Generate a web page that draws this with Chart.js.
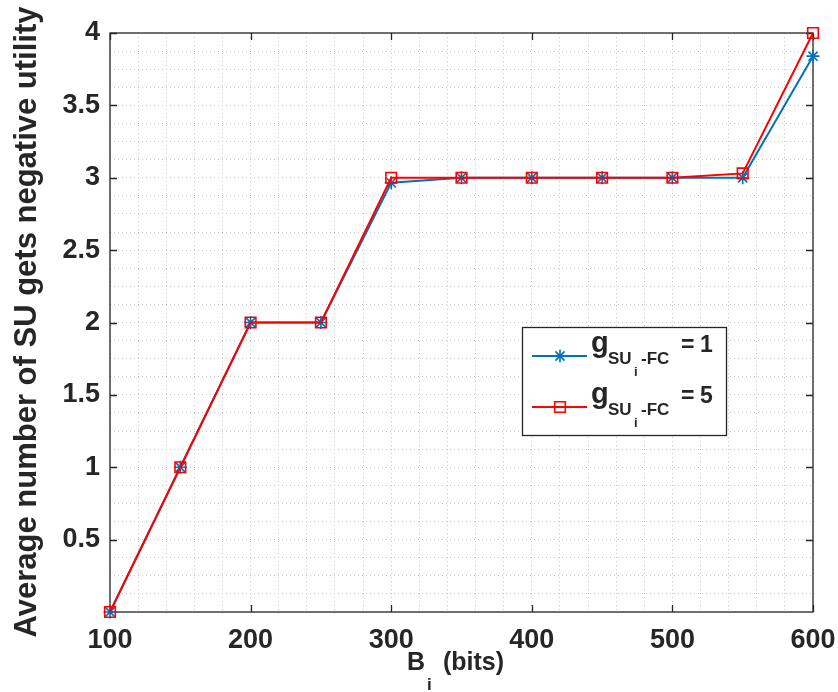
<!DOCTYPE html>
<html>
<head>
<meta charset="utf-8">
<script src="https://cdn.jsdelivr.net/npm/chart.js@4"></script>
<style>
  html, body { margin: 0; padding: 0; background: #fff; }
  #wrap { width: 838px; height: 692px; }
</style>
</head>
<body>
<div id="wrap"><canvas id="myChart" width="838" height="692"></canvas></div>
<script>
// data
const bits = [100, 150, 200, 250, 300, 350, 400, 450, 500, 550, 600];
const g1 = [0, 1, 2, 2, 2.965, 3, 3, 3, 3, 3, 3.84];
const g5 = [0, 1, 2, 2, 3, 3, 3, 3, 3, 3.03, 4];
const xTicks = [100, 200, 300, 400, 500, 600];
const yTicks = [0.5, 1, 1.5, 2, 2.5, 3, 3.5, 4];

const BLUE = '#0072BD', RED = '#FF0000', INK = '#262626';
const FONT = '"Liberation Sans", Arial, sans-serif';

function pts(ys) { return bits.map((x, i) => ({ x: x, y: ys[i] })); }

// frame, inward ticks, axis titles and legend
const decor = {
    id: 'decor',
    beforeDatasetsDraw(chart) {
        const c = chart.ctx, a = chart.chartArea;
        const xs = chart.scales.x, ys = chart.scales.y;
        c.save();
        c.strokeStyle = INK;
        c.lineWidth = 1.3;
        c.strokeRect(a.left, a.top, a.right - a.left, a.bottom - a.top);
        c.beginPath();
        xTicks.forEach(v => {
            const px = Math.round(xs.getPixelForValue(v)) + 0.5;
            c.moveTo(px, a.bottom); c.lineTo(px, a.bottom - 7);
            c.moveTo(px, a.top); c.lineTo(px, a.top + 7);
        });
        yTicks.forEach(v => {
            const py = Math.round(ys.getPixelForValue(v)) + 0.5;
            c.moveTo(a.left, py); c.lineTo(a.left + 7, py);
            c.moveTo(a.right, py); c.lineTo(a.right - 7, py);
        });
        c.stroke();
        c.restore();
    },
    afterDatasetsDraw(chart) {
        const c = chart.ctx;
        c.save();
        // axis titles
        c.fillStyle = INK;
        c.textBaseline = 'alphabetic';
        c.font = 'bold 31px ' + FONT;
        c.save();
        c.translate(36, 322);
        c.rotate(-Math.PI / 2);
        c.textAlign = 'center';
        c.fillText('Average number of SU gets negative utility', 0, 0);
        c.restore();

        c.textAlign = 'left';
        c.font = 'bold 25px ' + FONT;
        c.fillText('B', 407, 670);
        c.fillText('(bits)', 443, 670);
        c.font = 'bold 17px ' + FONT;
        c.fillText('i', 427, 690);

        // legend
        const lx = 522, ly = 327, lw = 204, lh = 108;
        c.fillStyle = '#fff';
        c.fillRect(lx, ly, lw, lh);
        c.strokeStyle = INK;
        c.lineWidth = 1.3;
        c.strokeRect(lx + 0.5, ly + 0.5, lw, lh);
        const rows = [
            { color: BLUE, style: 'star', r: 6.5, val: '1', y: 356 },
            { color: RED, style: 'rect', r: 7.5, val: '5', y: 407 }
        ];
        rows.forEach(r => {
            c.strokeStyle = r.color;
            c.fillStyle = 'rgba(0,0,0,0)';
            c.lineWidth = 2;
            c.beginPath();
            c.moveTo(532, r.y); c.lineTo(587, r.y);
            c.stroke();
            c.lineWidth = 1.6;
            Chart.helpers.drawPoint(c, { pointStyle: r.style, radius: r.r, borderWidth: 1.6, rotation: 0 }, 560, r.y);
            c.fillStyle = INK;
            c.font = 'bold 29px ' + FONT;
            c.fillText('g', 591, r.y - 4);
            c.font = 'bold 17px ' + FONT;
            c.fillText('SU', 608, r.y + 8);
            c.fillText('-FC', 641, r.y + 8);
            c.font = 'bold 13px ' + FONT;
            c.fillText('i', 634, r.y + 20);
            c.font = 'bold 23px ' + FONT;
            c.fillText('=', 681, r.y - 4);
            c.fillText(r.val, 700, r.y - 4);
        });
        c.restore();
    }
};

new Chart(document.getElementById('myChart'), {
    type: 'line',
    data: {
        datasets: [
            { label: 'g1', data: pts(g1), borderColor: BLUE, backgroundColor: BLUE, borderWidth: 2,
              pointStyle: 'star', pointRadius: 6.5, pointBorderWidth: 1.6, order: 1, clip: false },
            { label: 'g5', data: pts(g5), borderColor: RED, backgroundColor: 'rgba(0,0,0,0)', borderWidth: 2,
              pointStyle: 'rect', pointRadius: 7.5, pointBorderWidth: 1.6, order: 0, clip: false }
        ]
    },
    options: {
        responsive: false,
        animation: false,
        layout: { padding: { left: 0, right: 25, top: 33, bottom: 0 } },
        plugins: { legend: { display: false }, tooltip: { enabled: false } },
        elements: { line: { tension: 0 } },
        scales: {
            x: {
                type: 'linear', min: 100, max: 600,
                afterFit: s => { s.height = 80; s.paddingLeft = 0; s.paddingRight = 0; },
                grid: { color: '#c8c8c8', lineWidth: 1, drawTicks: false },
                border: { display: false, dash: [1, 3] },
                ticks: {
                    stepSize: 20, padding: 12, maxRotation: 0, autoSkip: false,
                    color: INK, font: { family: FONT, size: 27, weight: 'bold' },
                    callback: v => (xTicks.includes(v) ? String(v) : '')
                }
            },
            y: {
                type: 'linear', min: 0, max: 4,
                afterFit: s => { s.width = 110; s.paddingTop = 0; s.paddingBottom = 0; },
                grid: { color: '#c8c8c8', lineWidth: 1, drawTicks: false },
                border: { display: false, dash: [1, 3] },
                ticks: {
                    stepSize: 0.125, padding: 10, autoSkip: false,
                    color: INK, font: { family: FONT, size: 27, weight: 'bold' },
                    callback: v => (yTicks.some(t => Math.abs(t - v) < 1e-9) ? String(v) : '')
                }
            }
        }
    },
    plugins: [decor]
});
</script>
</body>
</html>
